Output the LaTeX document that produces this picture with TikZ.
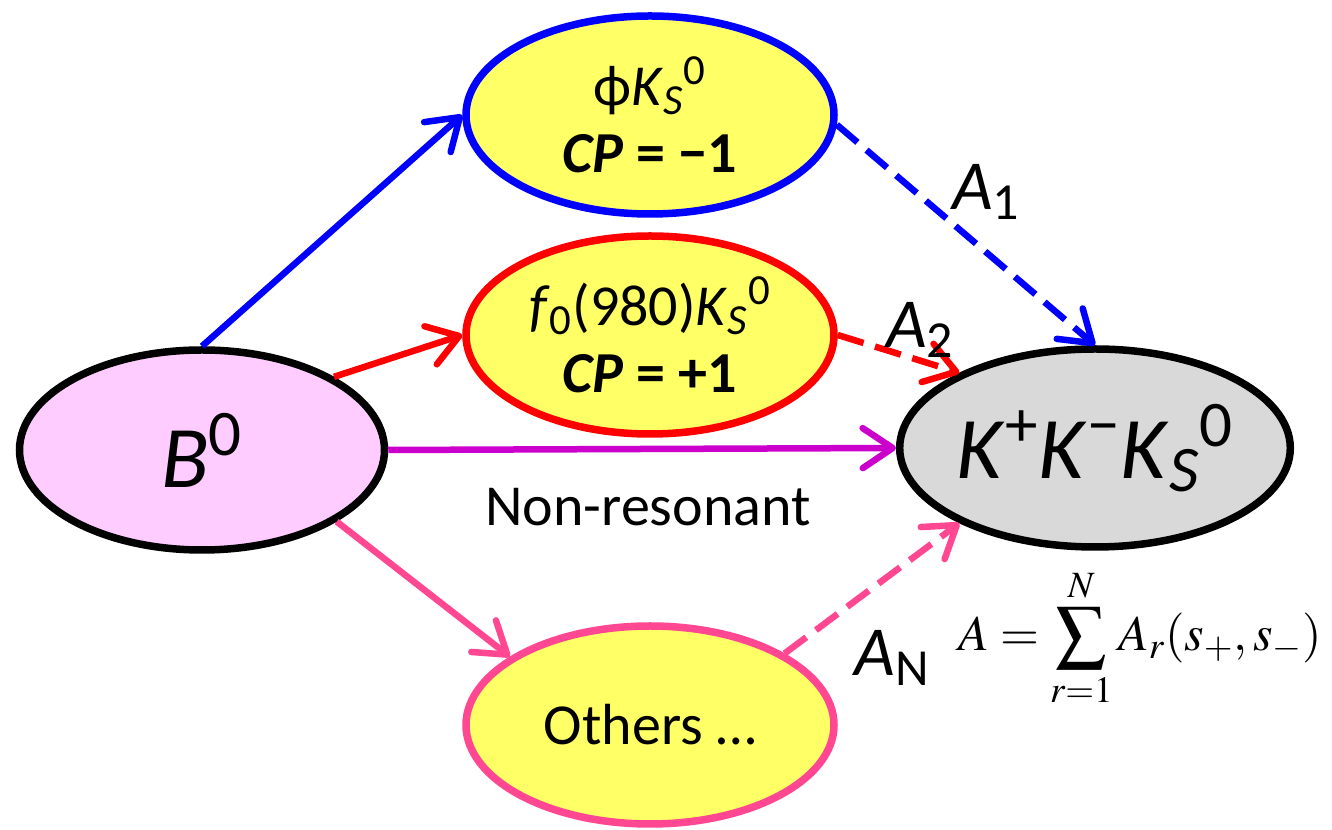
\documentclass[tikz,border=0pt]{standalone}
\usepackage{amsmath}
\usepackage{mathptmx}
\usepackage[no-math]{fontspec}
\setmainfont{Carlito}
\usetikzlibrary{arrows.meta,shapes.geometric}
\definecolor{resblue}{RGB}{0,0,255}
\definecolor{resred}{RGB}{255,0,0}
\definecolor{nrpurple}{RGB}{204,0,204}
\definecolor{othpink}{RGB}{255,72,145}
\definecolor{resfill}{RGB}{255,255,102}
\definecolor{bfill}{RGB}{255,204,255}
\definecolor{ffill}{RGB}{217,217,217}
\newcommand{\KSz}{\textit{K}\textsubscript{\textit{S}}\textsuperscript{0}}

\begin{document}
\begin{tikzpicture}[
  state/.style={ellipse,draw,line width=0.15cm,minimum width=7.36cm,minimum height=3.96cm,inner sep=0pt,align=center},
  flow/.style={line width=0.13cm,-{Straight Barb[length=0.6cm,width=0.8cm,round]}},
  amp/.style={flow,dash pattern=on 0.54cm off 0.24cm},
  big/.style={font=\fontsize{50}{56}\selectfont},
  mid/.style={font=\fontsize{33}{38}\selectfont},
  lbl/.style={font=\fontsize{40}{46}\selectfont}
]
\useasboundingbox (0,0) rectangle (26.64,16.6);
% states
\node[state,fill=bfill,minimum width=7.3cm,minimum height=4.0cm,big] (b) at (4.04,7.6) {\textit{B}\textsuperscript{0}};
\node[state,draw=resblue,fill=resfill,mid] (phi) at (13.0,14.3) {ϕ\KSz\\\textbf{\textit{CP} = −1}};
\node[state,draw=resred,fill=resfill,mid] (fz) at (13.0,9.9) {\textit{f}\textsubscript{0}(980)\KSz\\\textbf{\textit{CP} = +1}};
\node[state,draw=othpink,fill=resfill,mid] (oth) at (13.0,2.1) {Others …};
\node[state,fill=ffill,big] (fin) at (21.9,7.64) {\textit{K}\textsuperscript{+}\textit{K}\textsuperscript{−}\KSz};
% decays
\draw[flow,resblue] (b.north) -- (phi.west);
\draw[flow,resred] (b.29) -- (fz.west);
\draw[flow,nrpurple] (b.east) -- (fin.west);
\draw[flow,othpink] (b.-28) -- (oth.154);
\draw[amp,resblue] (phi.-3) -- (fin.north);
\draw[amp,resred] (fz.east) -- (fin.151);
\draw[amp,othpink] (oth.28) -- (fin.209);
% labels
\node[mid] (nr) at (12.96,6.46) {Non-resonant};
\node[lbl] (a1) at (19.72,12.76) {\textit{A}\textsubscript{1}};
\node[lbl] (a2) at (18.4,10.0) {\textit{A}\textsubscript{2}};
\node[lbl] (an) at (17.84,3.44) {\textit{A}\textsubscript{N}};
\node[font=\fontsize{28.5}{34}\selectfont] (sumf) at (22.8,3.84) {$\displaystyle A=\sum_{r=1}^{N}A_r(s_+,s_-)$};
\end{tikzpicture}
\end{document}
